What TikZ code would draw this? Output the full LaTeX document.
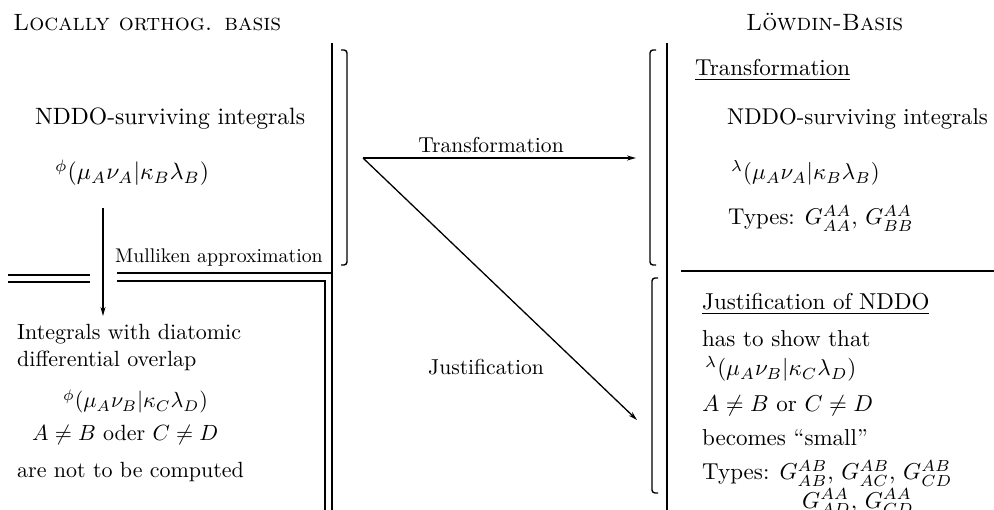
\RequirePackage{fix-cm}
\documentclass[tikz,border=0pt]{standalone}
\usepackage{graphicx}
\usetikzlibrary{arrows.meta}
\newcommand{\SB}[2]{\scalebox{#1}{#2}}
\begin{document}
\begin{tikzpicture}[x=1pt,y=-1pt,
  txt/.style={anchor=base west,inner sep=0pt,font=\fontsize{10}{12}\selectfont},
  lbl/.style={anchor=base,inner sep=0pt,font=\fontsize{10}{12}\selectfont},
  ttl/.style={anchor=base west,inner sep=0pt,font=\fontsize{10}{12}\selectfont\scshape},
  rule/.style={line width=1.4pt},
  heavy/.style={line width=2.3pt},
  brk/.style={line width=1.4pt,rounded corners=3pt},
  arr/.style={line width=1.3pt,-{Stealth[length=9pt,width=5pt]}}]
\clip (0,0) rectangle (994,510);
% ---------- left column ----------
\node[ttl] (tl) at (13,31) {\SB{2.36}{Locally orthog. basis}};
\coordinate (L1t) at (332,43);
\coordinate (L1b) at (332,512);
\draw[heavy] (L1t) -- (L1b);
\coordinate (b1a) at (341,50);
\coordinate (b1b) at (347,50);
\coordinate (b1c) at (347,265);
\coordinate (b1d) at (341,265);
\draw[brk] (b1a) -- (b1b) -- (b1c) -- (b1d);
\node[txt] (nddoL) at (35,125) {\SB{2.36}{NDDO-surviving integrals}};
\node[txt] (phiL) at (55,180) {\SB{2.36}{${}^{\phi}(\mu_A\nu_A|\kappa_B\lambda_B)$}};
\coordinate (mt) at (103,208);
\coordinate (mb) at (103,316);
\draw[arr] (mt) -- (mb);
\node[txt] (mull) at (115,263) {\SB{1.98}{Mulliken approximation}};
\coordinate (d1a) at (8,275);
\coordinate (d1b) at (90,275);
\coordinate (d2a) at (8,282);
\coordinate (d2b) at (90,282);
\draw[rule] (d1a) -- (d1b);
\draw[rule] (d2a) -- (d2b);
\coordinate (h1a) at (117,273);
\coordinate (h1b) at (332,273);
\draw[rule] (h1a) -- (h1b);
\coordinate (h2a) at (117,281);
\coordinate (h2b) at (325,281);
\coordinate (h2c) at (325,512);
\draw[rule] (h2a) -- (h2b) -- (h2c);
\node[txt] (int1) at (17,340) {\SB{2.2}{Integrals with diatomic}};
\node[txt] (int2) at (17,367) {\SB{2.2}{differential overlap}};
\node[txt] (phiL2) at (63,408) {\SB{2.2}{${}^{\phi}(\mu_A\nu_B|\kappa_C\lambda_D)$}};
\node[txt] (neqL) at (32,441) {\SB{2.2}{$A\neq B$ oder $C\neq D$}};
\node[txt] (notc) at (17,478) {\SB{2.2}{are not to be computed}};
% ---------- middle ----------
\coordinate (o) at (363,158);
\coordinate (te) at (636,158);
\coordinate (je) at (637,420);
\draw[arr] (o) -- (te);
\draw[arr] (o) -- (je);
\node[lbl] (tlab) at (491,153) {\SB{2.16}{Transformation}};
\node[lbl] (jlab) at (486,375) {\SB{2.16}{Justification}};
% ---------- right column ----------
\node[ttl] (tr) at (746,31) {\SB{2.36}{Löwdin-Basis}};
\coordinate (L2t) at (667,43);
\coordinate (L2b) at (667,512);
\draw[rule] (L2t) -- (L2b);
\coordinate (b2a) at (656,50);
\coordinate (b2b) at (650,50);
\coordinate (b2c) at (650,265);
\coordinate (b2d) at (656,265);
\draw[brk] (b2a) -- (b2b) -- (b2c) -- (b2d);
\coordinate (b3a) at (658,278);
\coordinate (b3b) at (652,278);
\coordinate (b3c) at (652,493);
\coordinate (b3d) at (658,493);
\draw[brk] (b3a) -- (b3b) -- (b3c) -- (b3d);
\coordinate (hra) at (681,271);
\coordinate (hrb) at (994,271);
\draw[rule] (hra) -- (hrb);
\node[txt] (trT) at (695,76) {\SB{2.3}{\underline{Transformation}}};
\node[txt] (nddoR) at (727,125) {\SB{2.28}{NDDO-surviving integrals}};
\node[txt] (lamR) at (731,180) {\SB{2.28}{${}^{\lambda}(\mu_A\nu_A|\kappa_B\lambda_B)$}};
\node[txt] (typR) at (728,225) {\SB{2.28}{Types: $G^{AA}_{AA}$, $G^{AA}_{BB}$}};
\node[txt] (jusT) at (702,310) {\SB{2.3}{\underline{Justification of NDDO}}};
\node[txt] (hts) at (702,347) {\SB{2.3}{has to show that}};
\node[txt] (lamR2) at (705,376) {\SB{2.3}{${}^{\lambda}(\mu_A\nu_B|\kappa_C\lambda_D)$}};
\node[txt] (neqR) at (702,412) {\SB{2.3}{$A\neq B$ or $C\neq D$}};
\node[txt] (small) at (702,446) {\SB{2.3}{becomes “small”}};
\node[txt] (typ2) at (702,480) {\SB{2.3}{Types: $G^{AB}_{AB}$, $G^{AB}_{AC}$, $G^{AB}_{CD}$}};
\node[txt] (typ3) at (802,508) {\SB{2.3}{$G^{AA}_{AD}$, $G^{AA}_{CD}$}};
\end{tikzpicture}
\end{document}
